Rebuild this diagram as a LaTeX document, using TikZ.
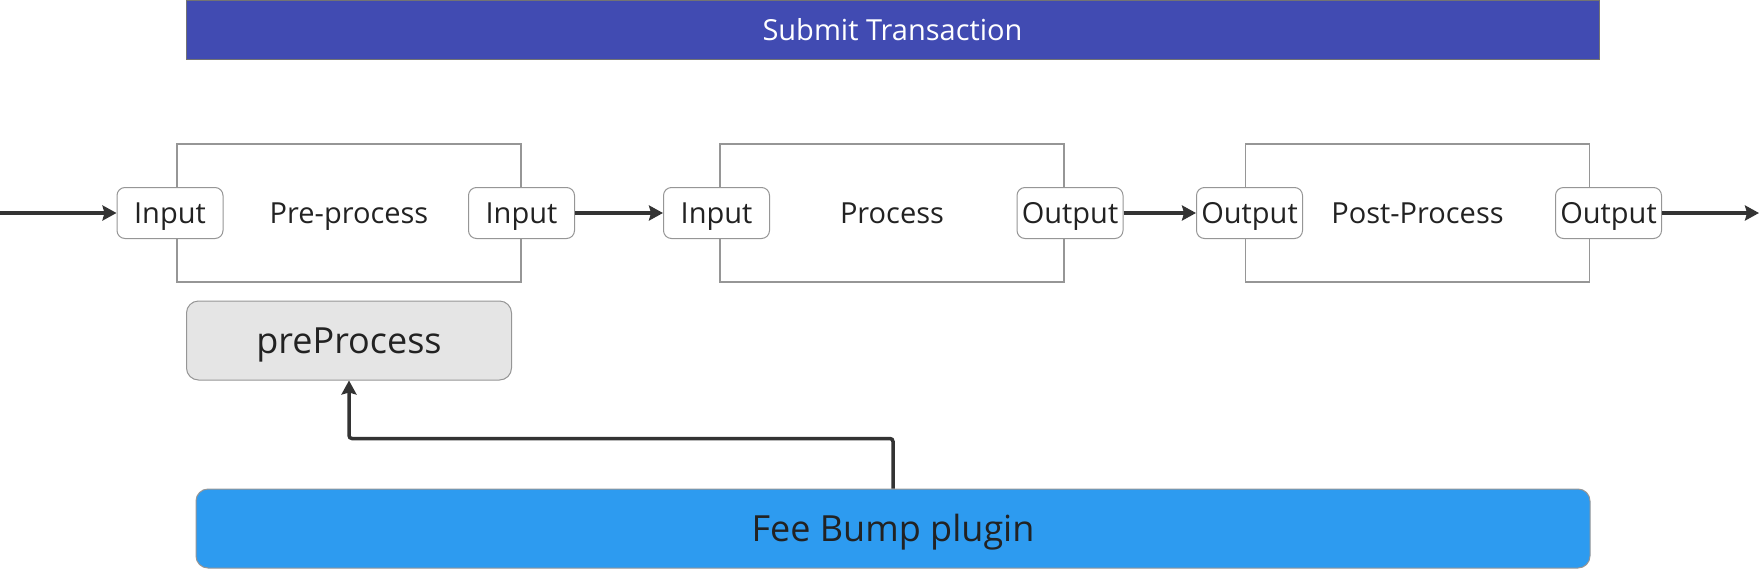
\documentclass[tikz,border=0pt]{standalone}
\usepackage{fontspec}
\setmainfont{Open Sans}
\usepackage{tikz}
\usetikzlibrary{arrows.meta,positioning}
\definecolor{bannerblue}{RGB}{65,75,178}
\definecolor{feeblue}{RGB}{45,155,240}
\definecolor{edgegray}{RGB}{150,150,150}
\definecolor{ink}{RGB}{51,51,51}
\definecolor{textdark}{RGB}{34,34,34}
\tikzset{
header/.style = {draw=black!55, fill=bannerblue, rectangle, line width=1pt, minimum width=1413pt, minimum height=59.5pt, text=white, text height=20.7pt, text depth=0pt, font=\fontsize{29}{34}\selectfont},
stage/.style = {draw=edgegray, fill=white, rectangle, line width=1.2pt, minimum width=344pt, minimum height=138pt, text=textdark, text height=20.7pt, text depth=0pt, font=\fontsize{29}{34}\selectfont},
port/.style = {draw=edgegray, fill=white, rectangle, rounded corners=8pt, line width=1pt, inner sep=0pt, minimum width=106pt, minimum height=51pt, text=textdark, text height=20.7pt, text depth=0pt, font=\fontsize{29}{34}\selectfont},
hook/.style = {draw=edgegray, fill=black!10, rectangle, rounded corners=12pt, line width=1pt, minimum width=325pt, minimum height=79pt, text=textdark, text height=25.7pt, text depth=0pt, font=\fontsize{36}{42}\selectfont},
plugin/.style = {draw=edgegray, fill=feeblue, rectangle, rounded corners=12pt, line width=1pt, minimum width=1394pt, minimum height=79pt, text=textdark, text height=25.7pt, text depth=0pt, font=\fontsize{36}{42}\selectfont},
flow/.style = {->, draw=ink, line width=3.5pt},
}
\begin{document}
\begin{tikzpicture}[x=1pt, y=-1pt, >={Stealth[length=14pt, width=15pt, inset=2pt]}]
    \useasboundingbox (0,0) rectangle (1759,568);

    \node [header] (submit) at (892.5,29.75) {Submit Transaction};

    \node [stage] (pre) at (349,213) {Pre-process};
    \node [stage, right of = pre, node distance = 543pt] (proc) {Process};
    \node [stage, right of = proc, node distance = 525.5pt] (post) {Post-Process};

    \node [port, left of = pre, node distance = 179pt] (in1) {Input};
    \node [port, right of = pre, node distance = 172.5pt] (in2) {Input};
    \node [port, left of = proc, node distance = 175.5pt] (in3) {Input};
    \node [port, right of = proc, node distance = 178pt] (out1) {Output};
    \node [port, left of = post, node distance = 168pt] (out2) {Output};
    \node [port, right of = post, node distance = 191pt] (out3) {Output};

    \node [hook, below of = pre, node distance = 127.5pt] (prehook) {preProcess};
    \node [plugin] (fee) at (893,528.5) {Fee Bump plugin};

    \coordinate (start) at (0,213);
    \coordinate (finish) at (1759,213);

    \draw [flow] (start) -- (in1);
    \draw [flow] (in2) -- (in3);
    \draw [flow] (out1) -- (out2);
    \draw [flow] (out3) -- (finish);

    \draw [flow, rounded corners=3pt] (fee.north) -- ++(0,-50) -| (prehook.south);
\end{tikzpicture}
\end{document}
